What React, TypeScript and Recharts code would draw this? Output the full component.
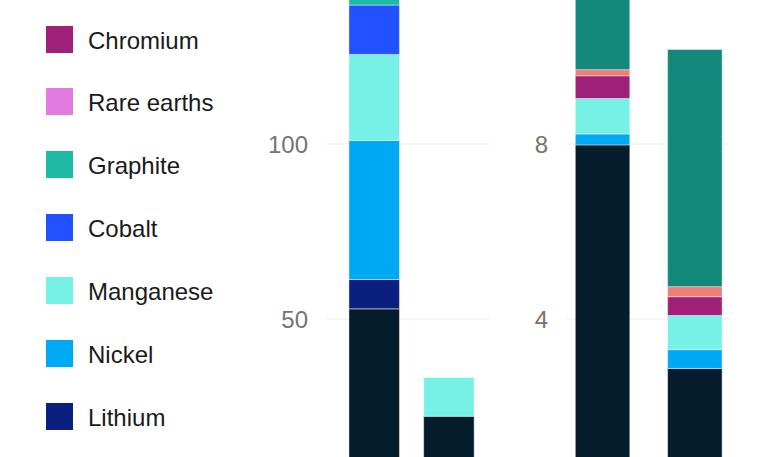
import React from "react";
import { Bar, BarChart, CartesianGrid, XAxis, YAxis } from "recharts";

// stack order, bottom to top
const minerals = [
  "Copper",
  "Lithium",
  "Nickel",
  "Manganese",
  "Cobalt",
  "Graphite",
  "Rare earths",
  "Chromium",
  "Molybdenum",
  "Zinc",
];

const colors = [
  "#051c2c",
  "#0b1f7e",
  "#00a9f4",
  "#77f0e5",
  "#2251ff",
  "#1ebaa6",
  "#e27be0",
  "#9e2079",
  "#f27c77",
  "#12897b",
];

// left panel: kg per vehicle (electric car, conventional car)
const carLabels = ["Electric car", "Conventional car"];
const electricCar = [52.9, 8.4, 39.7, 24.6, 14.1, 66.3, 0.5, 0, 0, 0.1];
const conventionalCar = [22.2, 0, 0, 11.1, 0, 0, 0, 0, 0, 0];
const carTicks = [50, 100];

// right panel: tonnes per MW (offshore wind, onshore wind)
const windLabels = ["Offshore wind", "Onshore wind"];
const offshoreWind = [7.98, 0, 0.25, 0.81, 0, 0, 0, 0.52, 0.14, 5.5];
const onshoreWind = [2.87, 0, 0.43, 0.78, 0, 0, 0, 0.43, 0.23, 5.42];
const windTicks = [4, 8];

// legend rows that are visible in the picture
const legendItems = [
  "Chromium",
  "Rare earths",
  "Graphite",
  "Cobalt",
  "Manganese",
  "Nickel",
  "Lithium",
];

function toRows(labels: string[], series: number[][]) {
  return labels.map((name, i) => {
    const row: Record<string, number | string> = { name, x: i };
    minerals.forEach((m, j) => {
      row[m] = series[i][j];
    });
    return row;
  });
}

const carData = toRows(carLabels, [electricCar, conventionalCar]);
const windData = toRows(windLabels, [offshoreWind, onshoreWind]);

const font = "'Liberation Sans', Arial, Helvetica, sans-serif";
const tickStyle = { fontSize: 24, fill: "#747474", fontFamily: font };

function Panel({
  data,
  width,
  height,
  marginLeft,
  marginRight,
  axisWidth,
  domain,
  ticks,
  xDomain,
  barSize,
}: {
  data: Record<string, number | string>[];
  width: number;
  height: number;
  marginLeft: number;
  marginRight: number;
  axisWidth: number;
  domain: [number, number];
  ticks: number[];
  xDomain: [number, number];
  barSize: number;
}) {
  return (
    <BarChart
      width={width}
      height={height}
      data={data}
      margin={{ top: 0, right: marginRight, bottom: 0, left: marginLeft }}
    >
      <CartesianGrid vertical={false} stroke="#ececec" strokeWidth={1} />
      <XAxis
        type="number"
        dataKey="x"
        domain={xDomain}
        allowDataOverflow
        hide
      />
      <YAxis
        width={axisWidth}
        domain={domain}
        ticks={ticks}
        axisLine={false}
        tickLine={false}
        tickSize={0}
        tickMargin={18}
        tick={tickStyle}
      />
      {minerals.map((m, i) => (
        <Bar
          key={m}
          dataKey={m}
          stackId="a"
          fill={colors[i]}
          barSize={barSize}
          stroke="rgba(255,255,255,0.55)"
          strokeWidth={0.8}
          isAnimationActive={false}
        />
      ))}
    </BarChart>
  );
}

export default function App() {
  return (
    <div
      style={{
        position: "fixed",
        top: 0,
        left: 0,
        width: 767,
        height: 457,
        overflow: "hidden",
        background: "#fff",
        fontFamily: font,
      }}
    >
      {legendItems.map((name, i) => (
        <div
          key={name}
          style={{
            position: "absolute",
            left: 46,
            top: 25 + i * 62.9,
            height: 28,
            display: "flex",
            alignItems: "center",
          }}
        >
          <div
            style={{
              width: 27,
              height: 27,
              background: colors[minerals.indexOf(name)],
            }}
          />
          <span
            style={{
              marginLeft: 15,
              fontSize: 24,
              lineHeight: "28px",
              paddingTop: 3,
              color: "#1a1a1a",
              whiteSpace: "nowrap",
            }}
          >
            {name}
          </span>
        </div>
      ))}

      <div style={{ position: "absolute", left: 0, top: -240.7 }}>
        <Panel
          data={carData}
          width={500}
          height={735}
          marginLeft={226}
          marginRight={10}
          axisWidth={100}
          domain={[0, 210]}
          ticks={carTicks}
          xDomain={[-0.6466, 1.549]}
          barSize={50.5}
        />
      </div>

      <div style={{ position: "absolute", left: 500, top: -205.7 }}>
        <Panel
          data={windData}
          width={267}
          height={700}
          marginLeft={0}
          marginRight={37}
          axisWidth={66}
          domain={[0, 16]}
          ticks={windTicks}
          xDomain={[-0.395, 1.382]}
          barSize={54.5}
        />
      </div>
    </div>
  );
}
